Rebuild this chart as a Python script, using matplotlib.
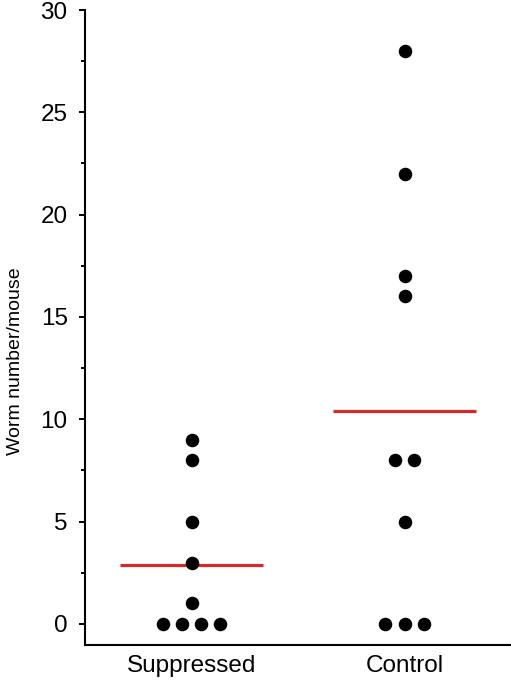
import numpy as np
import matplotlib
matplotlib.use('Agg')
import matplotlib.pyplot as plt
from matplotlib.ticker import MultipleLocator
from matplotlib import font_manager

# worm counts
groups = ['Suppressed', 'Control']
suppressed = [0, 0, 0, 0, 1, 3, 5, 8, 9]
control = [0, 0, 0, 5, 8, 8, 16, 17, 22, 28]
values = [suppressed, control]

spacing = 0.09     # horizontal spread for tied values
half_width = 0.335 # half length of the mean bar

plt.rcParams['font.family'] = ['Liberation Sans', 'DejaVu Sans']

# the y label in the original is a condensed face
names = set([f.name for f in font_manager.fontManager.ttflist])
if 'Liberation Sans Narrow' in names:
	ylab_font = ['Liberation Sans Narrow', 'DejaVu Sans']
	ylab_size = 17
else:
	ylab_font = ['Liberation Sans', 'DejaVu Sans']
	ylab_size = 14

fig = plt.figure(figsize=(5.11, 6.81), dpi=100)
ax = fig.add_axes([85/511, 36/681, 1 - 85/511, 635/681])

for i, vals in enumerate(values):
	pos = i + 1
	vals = np.array(vals)
	xs = np.zeros(len(vals))
	for v in np.unique(vals):
		idx = np.where(vals == v)[0]
		n = len(idx)
		xs[idx] = pos + (np.arange(n) - (n - 1) / 2.0) * spacing
	ax.scatter(xs, vals, s=95, color='black', zorder=3, linewidths=0)
	m = vals.mean()
	ax.plot([pos - half_width, pos + half_width], [m, m], color='#d42a2a', lw=2.3, zorder=2, solid_capstyle='butt')

ax.set_xlim(0.5, 2.5)
ax.set_ylim(-1.03, 30)
ax.set_xticks([1, 2])
ax.set_xticklabels(groups, fontsize=17.5)
ax.tick_params(axis='x', length=0, pad=7)
ax.yaxis.set_major_locator(MultipleLocator(5))
ax.yaxis.set_minor_locator(MultipleLocator(2.5))
ax.tick_params(axis='y', which='major', length=4.5, width=1.4, labelsize=17.5, pad=8)
ax.tick_params(axis='y', which='minor', length=3, width=1.4)
ax.set_ylabel('Worm number/mouse', fontsize=ylab_size, family=ylab_font)
ax.yaxis.set_label_coords(-0.143, 0.447)

ax.spines['top'].set_visible(False)
ax.spines['right'].set_visible(False)
ax.spines['left'].set_linewidth(1.5)
ax.spines['bottom'].set_linewidth(1.5)

fig.savefig('out.png', dpi=100)
